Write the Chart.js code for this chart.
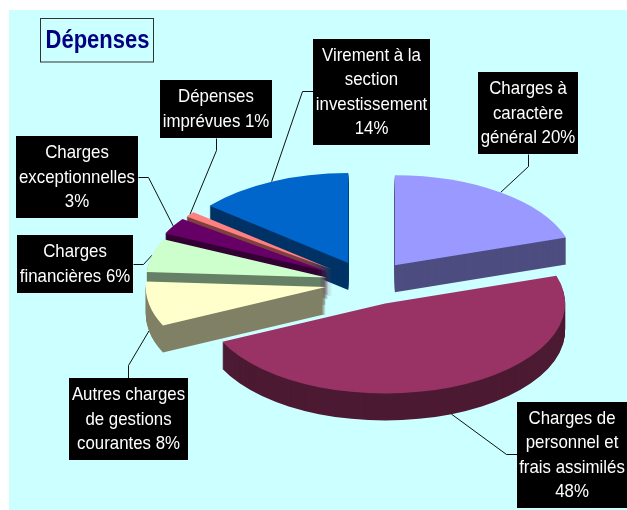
<!DOCTYPE html>
<html>
<head>
<meta charset="utf-8">
<title>Dépenses</title>
<script src="https://cdn.jsdelivr.net/npm/chart.js@4/dist/chart.umd.min.js"></script>
<style>
  html, body { margin: 0; padding: 0; background: #fff; }
  canvas { display: block; }
</style>
</head>
<body>
<canvas id="depenses-chart" width="627" height="510"></canvas>
<script>
const categories = [
  'Charges à caractère général',
  'Charges de personnel et frais assimilés',
  'Autres charges de gestions courantes',
  'Charges financières',
  'Charges exceptionnelles',
  'Dépenses imprévues',
  'Virement à la section investissement'
];
const values = [20, 48, 8, 6, 3, 1, 14];
const sliceColors = ['#9999FF', '#993366', '#FFFFCC', '#CCFFCC', '#660066', '#FF8080', '#0066CC'];
const wallColors = ['#4D4D80', '#4D1A33', '#808066', '#668066', '#330033', '#804040', '#003366'];
const labelLines = [
  ['Charges à', 'caractère', 'général 20%'],
  ['Charges de', 'personnel et', 'frais assimilés', '48%'],
  ['Autres charges', 'de gestions', 'courantes 8%'],
  ['Charges', 'financières 6%'],
  ['Charges', 'exceptionnelles', '3%'],
  ['Dépenses', 'imprévues 1%'],
  ['Virement à la', 'section', 'investissement', '14%']
];
// label box x, y, w, h and the start + elbow of each leader line
const labelBoxes = [
  [478, 72, 100, 82], [517, 402, 110, 106], [69, 378, 119, 82], [17, 235, 116, 58],
  [16, 136, 122, 82], [160, 80, 112, 58], [313, 39, 117, 106]
];
const leaderStarts = [
  [528, 154, 528, 166], [517, 454, 506, 454], [128, 378, 128, 365], [133, 264, 143, 264],
  [138, 177, 148, 177], [216, 138, 216, 150], [313, 91, 302, 91]
];

const tilt = 0.5;      // vertical squash of the pie
const depth = 27;      // thickness of the slices
const explode = 44;    // distance of each slice from the centre
const nudgeX = [0, 0, 0, 0, -3, -2, -2];   // small sideways fix for the upper left slices

function drawSlice(ctx, arc, mid, drop, color, nudge) {
  ctx.save();
  ctx.translate(arc.x + nudge, arc.y + drop);
  ctx.scale(1, tilt);
  ctx.translate(-arc.x, -arc.y);
  ctx.translate(Math.cos(mid) * explode, Math.sin(mid) * explode);
  const saved = arc.options;
  if (color) arc.options = Object.assign(Object.create(saved), {backgroundColor: color});
  arc.draw(ctx);
  arc.options = saved;
  ctx.restore();
}

// narrow tall text, the reference font is squeezed sideways
function squeezedText(ctx, text, x, y, squeeze) {
  ctx.save();
  ctx.translate(x, y);
  ctx.scale(squeeze, 1);
  ctx.fillText(text, 0, 0);
  ctx.restore();
}

const pie3d = {
  id: 'pie3d',
  beforeDraw(chart) {
    const ctx = chart.ctx;
    ctx.fillStyle = '#CCFFFF';
    ctx.fillRect(9, 10, 618, 500);
  },
  beforeDatasetsDraw(chart) {
    const ctx = chart.ctx;
    const arcs = chart.getDatasetMeta(0).data;
    const mids = arcs.map(a => (a.startAngle + a.endAngle) / 2);

    // leader lines first, the slices sit over their ends
    ctx.strokeStyle = '#111';
    ctx.lineWidth = 1;
    arcs.forEach((a, i) => {
      const edge = a.outerRadius + explode;
      const front = Math.sin(mids[i]) > 0 ? depth : 0;
      const s = leaderStarts[i];
      ctx.beginPath();
      ctx.moveTo(s[0] + 0.5, s[1] + 0.5);
      ctx.lineTo(s[2] + 0.5, s[3] + 0.5);
      ctx.lineTo(a.x + nudgeX[i] + Math.cos(mids[i]) * edge, a.y + Math.sin(mids[i]) * edge * tilt + front);
      ctx.stroke();
    });

    // back slices first
    const order = arcs.map((a, i) => i).sort((p, q) => Math.sin(mids[p]) - Math.sin(mids[q]));
    order.forEach(i => {
      for (let d = depth; d > 0; d--) drawSlice(ctx, arcs[i], mids[i], d, wallColors[i], nudgeX[i]);
      drawSlice(ctx, arcs[i], mids[i], 0, null, nudgeX[i]);
    });

    // black label boxes
    ctx.textAlign = 'center';
    ctx.textBaseline = 'middle';
    ctx.font = '18.5px "Liberation Sans", Arial, sans-serif';
    labelBoxes.forEach((b, i) => {
      ctx.fillStyle = '#000';
      ctx.fillRect(b[0], b[1], b[2], b[3]);
      ctx.fillStyle = '#fff';
      const lines = labelLines[i];
      const top = b[1] + b[3] / 2 - (lines.length - 1) * 24.4 / 2;
      lines.forEach((t, n) => squeezedText(ctx, t, b[0] + b[2] / 2, top + n * 24.4 + 0.5, 0.91));
    });

    // title box
    ctx.fillStyle = '#CCFFFF';
    ctx.fillRect(41, 18, 113, 44);
    ctx.strokeStyle = '#333';
    ctx.strokeRect(40.5, 18.5, 113, 43.5);
    ctx.fillStyle = '#000080';
    ctx.font = 'bold 25px "Liberation Sans", Arial, sans-serif';
    squeezedText(ctx, 'Dépenses', 97.5, 41, 0.88);
    return false;
  }
};

const depensesChart = new Chart(document.getElementById('depenses-chart').getContext('2d'), {
  type: 'pie',
  plugins: [pie3d],
  data: {
    labels: categories,
    datasets: [{
      data: values,
      backgroundColor: sliceColors,
      borderWidth: 0
    }]
  },
  options: {
    responsive: false,
    animation: false,
    radius: 180,
    layout: { padding: { left: 111, top: 56 } },
    plugins: {
      legend: { display: false },
      tooltip: { enabled: false },
      title: { display: false }
    }
  }
});
</script>
</body>
</html>
